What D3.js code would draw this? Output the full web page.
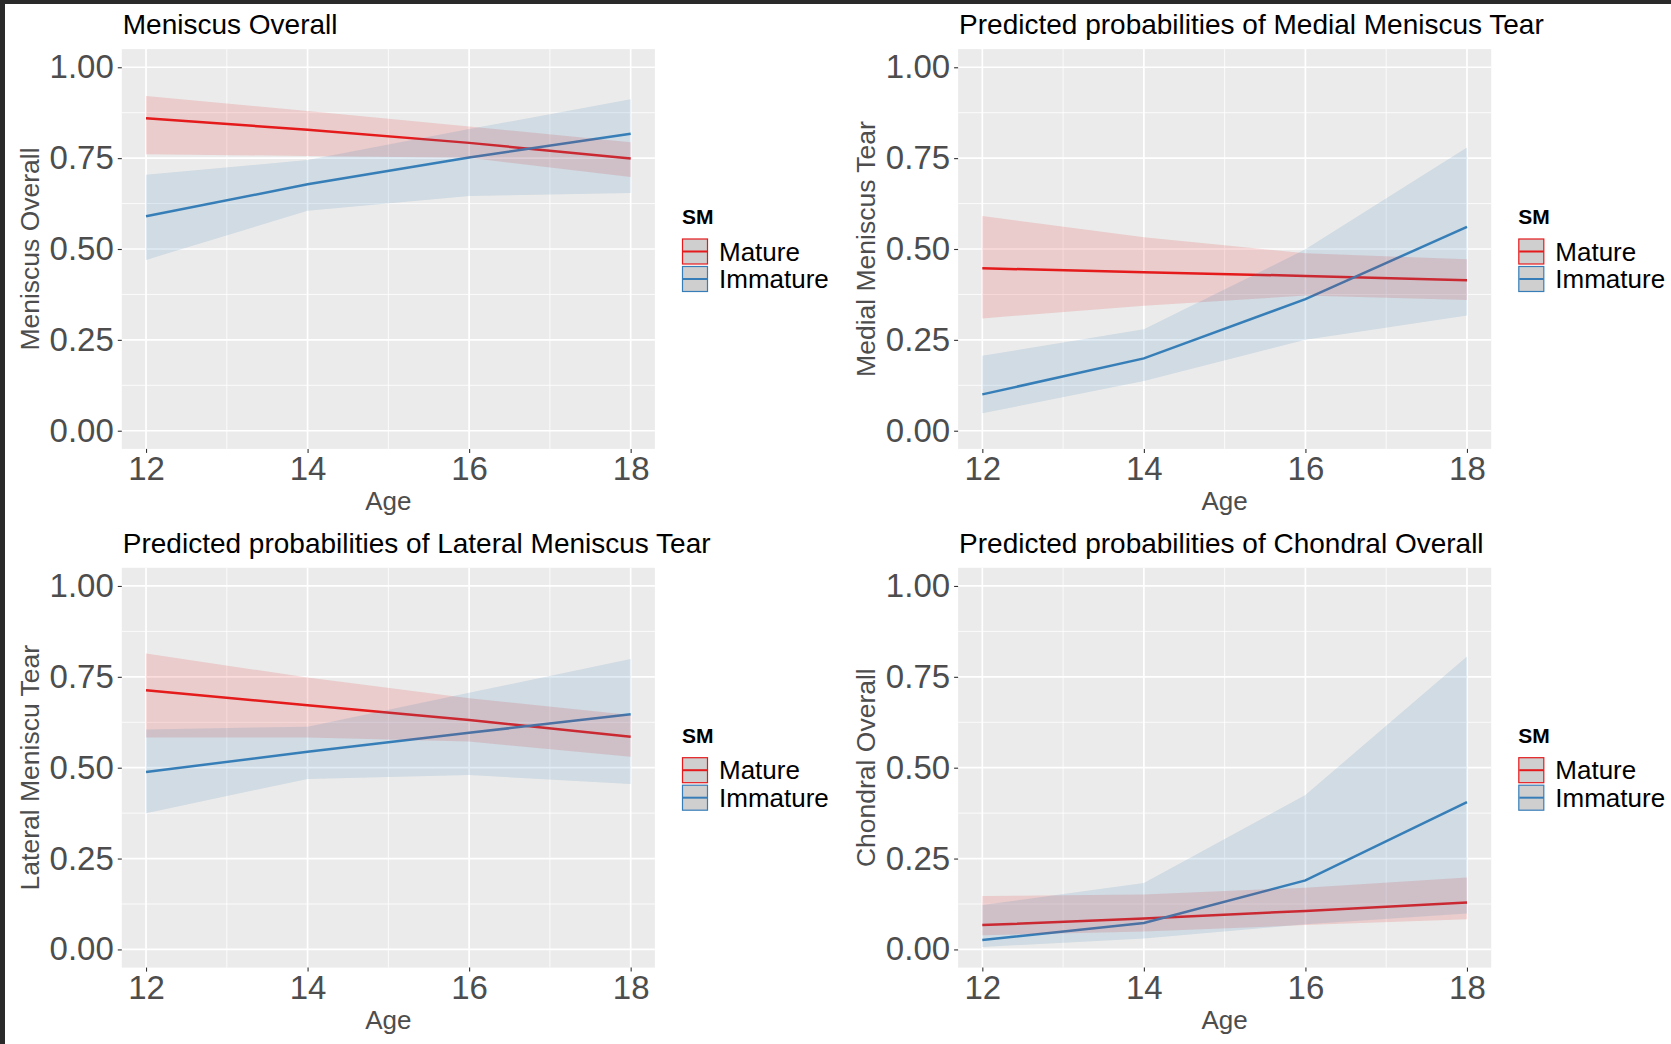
<!DOCTYPE html>
<html>
<head>
<meta charset="utf-8">
<script src="https://d3js.org/d3.v7.min.js"></script>
<style>
  body { margin: 0; background: #fff; }
  svg { display: block; font-family: "Liberation Sans", Arial, Helvetica, sans-serif; }
</style>
</head>
<body>
<script>
// ages at which the predictions were computed
const ages = [12, 14, 16, 18];
const xTicks = [12, 14, 16, 18];
const xMinor = [13, 15, 17];
const yTicks = [0, 0.25, 0.5, 0.75, 1];
const yMinor = [0.125, 0.375, 0.625, 0.875];
const groups = ["Mature", "Immature"];
const groupColors = ["#e41a1c", "#377eb8"];

const titles = [
  "Meniscus Overall",
  "Predicted probabilities of Medial Meniscus Tear",
  "Predicted probabilities of Lateral Meniscus Tear",
  "Predicted probabilities of Chondral Overall"
];
const yTitles = ["Meniscus Overall", "Medial Meniscus Tear", "Lateral Meniscu Tear", "Chondral Overall"];

// Meniscus overall
const menMature = [0.860, 0.828, 0.792, 0.749];
const menMatureLo = [0.761, 0.756, 0.751, 0.698];
const menMatureHi = [0.921, 0.880, 0.837, 0.794];
const menImm = [0.590, 0.678, 0.752, 0.817];
const menImmLo = [0.470, 0.605, 0.646, 0.654];
const menImmHi = [0.704, 0.745, 0.830, 0.912];

// Medial meniscus tear
const medMature = [0.447, 0.436, 0.426, 0.414];
const medMatureLo = [0.309, 0.344, 0.372, 0.360];
const medMatureHi = [0.591, 0.532, 0.488, 0.472];
const medImm = [0.100, 0.199, 0.362, 0.561];
const medImmLo = [0.048, 0.137, 0.250, 0.317];
const medImmHi = [0.206, 0.279, 0.499, 0.779];

// Lateral meniscus tear
const latMature = [0.713, 0.672, 0.631, 0.585];
const latMatureLo = [0.583, 0.583, 0.572, 0.530];
const latMatureHi = [0.814, 0.748, 0.691, 0.645];
const latImm = [0.488, 0.544, 0.596, 0.647];
const latImmLo = [0.375, 0.469, 0.480, 0.455];
const latImmHi = [0.605, 0.613, 0.706, 0.799];

// Chondral overall
const chMature = [0.067, 0.085, 0.106, 0.129];
const chMatureLo = [0.039, 0.049, 0.067, 0.083];
const chMatureHi = [0.147, 0.151, 0.170, 0.198];
const chImm = [0.026, 0.073, 0.190, 0.405];
const chImmLo = [0.007, 0.030, 0.069, 0.099];
const chImmHi = [0.122, 0.183, 0.425, 0.806];

function rows(p, lo, hi) {
  return ages.map((a, i) => ({age: a, p: p[i], lo: lo[i], hi: hi[i]}));
}

const panels = [
  {col: 0, row: 0, series: [rows(menMature, menMatureLo, menMatureHi), rows(menImm, menImmLo, menImmHi)]},
  {col: 1, row: 0, series: [rows(medMature, medMatureLo, medMatureHi), rows(medImm, medImmLo, medImmHi)]},
  {col: 0, row: 1, series: [rows(latMature, latMatureLo, latMatureHi), rows(latImm, latImmLo, latImmHi)]},
  {col: 1, row: 1, series: [rows(chMature, chMatureLo, chMatureHi), rows(chImm, chImmLo, chImmHi)]}
];

const W = 1671, H = 1044;
const colOffset = 836.3, rowOffset = 518.7;
const pl = 121.8, pr = 654.9, pt = 49.1, pb = 448.9;

const svg = d3.select("body").append("svg").attr("width", W).attr("height", H);

// dark frame of the screenshot
svg.append("rect").attr("x", 0).attr("y", 0).attr("width", W).attr("height", 4).attr("fill", "#2a2a2a");
svg.append("rect").attr("x", 0).attr("y", 0).attr("width", 5).attr("height", H).attr("fill", "#2a2a2a");

panels.forEach((pan, k) => {
  const dx = pan.col * colOffset, dy = pan.row * rowOffset;
  const g = svg.append("g").attr("transform", `translate(${dx},${dy})`);

  const x = d3.scaleLinear().domain([11.7, 18.3]).range([pl, pr]);
  const y = d3.scaleLinear().domain([-0.05, 1.05]).range([pb, pt]);

  g.append("rect").attr("x", pl).attr("y", pt)
    .attr("width", pr - pl).attr("height", pb - pt).attr("fill", "#ebebeb");

  // grid
  g.selectAll(".ymin").data(yMinor).enter().append("line")
    .attr("x1", pl).attr("x2", pr).attr("y1", d => y(d)).attr("y2", d => y(d))
    .attr("stroke", "#fff").attr("stroke-width", 0.8);
  g.selectAll(".xmin").data(xMinor).enter().append("line")
    .attr("y1", pt).attr("y2", pb).attr("x1", d => x(d)).attr("x2", d => x(d))
    .attr("stroke", "#fff").attr("stroke-width", 0.8);
  g.selectAll(".ymaj").data(yTicks).enter().append("line")
    .attr("x1", pl).attr("x2", pr).attr("y1", d => y(d)).attr("y2", d => y(d))
    .attr("stroke", "#fff").attr("stroke-width", 1.7);
  g.selectAll(".xmaj").data(xTicks).enter().append("line")
    .attr("y1", pt).attr("y2", pb).attr("x1", d => x(d)).attr("x2", d => x(d))
    .attr("stroke", "#fff").attr("stroke-width", 1.7);

  const line = d3.line().x(d => x(d.age)).y(d => y(d.p));
  const area = d3.area().x(d => x(d.age)).y0(d => y(d.lo)).y1(d => y(d.hi));

  pan.series.forEach((s, i) => {
    g.append("path").datum(s).attr("d", line)
      .attr("fill", "none").attr("stroke", groupColors[i]).attr("stroke-width", 2.5);
  });
  pan.series.forEach((s, i) => {
    g.append("path").datum(s).attr("d", area)
      .attr("fill", groupColors[i]).attr("fill-opacity", 0.15);
  });

  // axes
  const ya = g.append("g").attr("transform", `translate(${pl},0)`)
    .call(d3.axisLeft(y).tickValues(yTicks).tickFormat(d3.format(".2f")).tickSize(4).tickPadding(4));
  const xa = g.append("g").attr("transform", `translate(0,${pb})`)
    .call(d3.axisBottom(x).tickValues(xTicks).tickFormat(d3.format("d")).tickSize(4).tickPadding(4));
  [ya, xa].forEach(a => {
    a.select(".domain").remove();
    a.selectAll(".tick line").attr("stroke", "#333").attr("stroke-width", 1.1);
    a.selectAll(".tick text").attr("fill", "#4d4d4d")
      .style("font-size", "33px").style("font-family", "'Liberation Sans', Arial, sans-serif");
  });

  // titles
  g.append("text").attr("x", pl + 1).attr("y", 34.3).text(titles[k])
    .style("font-size", "28px").attr("fill", "#000");
  g.append("text").attr("x", (pl + pr) / 2).attr("y", 510).attr("text-anchor", "middle")
    .text("Age").style("font-size", "26px").attr("fill", "#4d4d4d");
  g.append("text").attr("transform", `translate(38.5,${(pt + pb) / 2}) rotate(-90)`)
    .attr("text-anchor", "middle").text(yTitles[k])
    .style("font-size", "26.5px").attr("fill", "#4d4d4d");

  // legend
  const lg = g.append("g").attr("transform", "translate(682,0)");
  lg.append("text").attr("x", 0).attr("y", 224).text("SM")
    .style("font-size", "21px").style("font-weight", "bold").attr("fill", "#000");
  groups.forEach((name, i) => {
    const ky = 239 + i * 27.5;
    lg.append("rect").attr("x", 0.5).attr("y", ky).attr("width", 25).attr("height", 25)
      .attr("fill", "#cfcfcf").attr("stroke", groupColors[i]).attr("stroke-width", 1.2);
    lg.append("line").attr("x1", 1).attr("x2", 25.5).attr("y1", ky + 12.5).attr("y2", ky + 12.5)
      .attr("stroke", groupColors[i]).attr("stroke-width", 2);
    lg.append("text").attr("x", 37).attr("y", ky + 21.5).text(name)
      .style("font-size", "26px").attr("fill", "#000");
  });
});
</script>
</body>
</html>
